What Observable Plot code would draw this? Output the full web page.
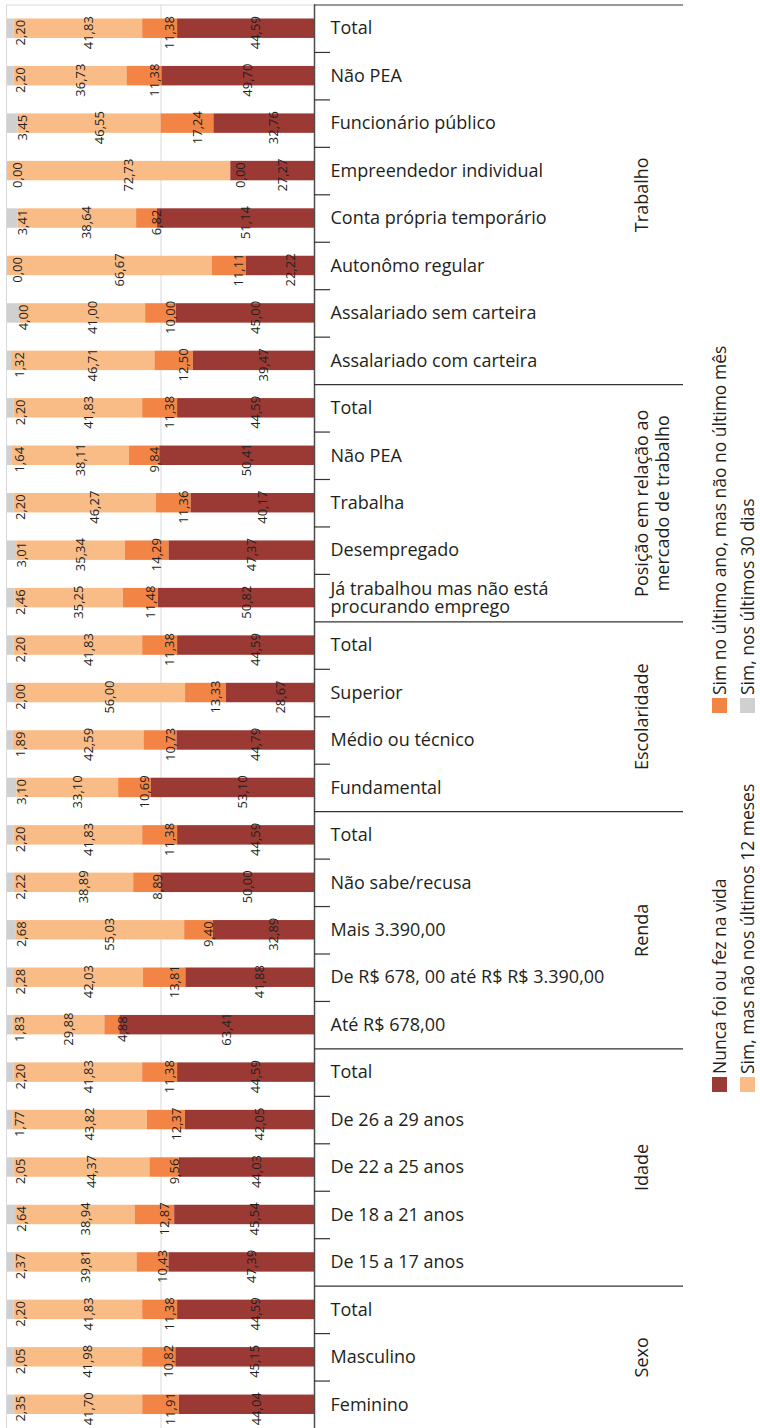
<!DOCTYPE html>
<html><head><meta charset="utf-8">
<script src="https://cdn.jsdelivr.net/npm/d3@7"></script>
<script src="https://cdn.jsdelivr.net/npm/@observablehq/plot@0.6"></script>
<style>
body{margin:0;background:#fff;font-family:"Open Sans",sans-serif}
#wrap{position:relative;width:760px;height:1428px;overflow:hidden}
#wrap svg{position:absolute;left:0;top:0}
</style></head><body><div id="wrap"></div>
<script>
const categories = [
  "Total","Não PEA","Funcionário público","Empreendedor individual","Conta própria temporário",
  "Autonômo regular","Assalariado sem carteira","Assalariado com carteira",
  "Total","Não PEA","Trabalha","Desempregado","Já trabalhou mas não está\nprocurando emprego",
  "Total","Superior","Médio ou técnico","Fundamental",
  "Total","Não sabe/recusa","Mais 3.390,00","De R$ 678, 00 até R$ R$ 3.390,00","Até R$ 678,00",
  "Total","De 26 a 29 anos","De 22 a 25 anos","De 18 a 21 anos","De 15 a 17 anos",
  "Total","Masculino","Feminino"
];
const groupNames = ["Trabalho","Posição em relação ao\nmercado de trabalho","Escolaridade","Renda","Idade","Sexo"];
const groupSizes = [8,5,4,5,5,3];
const series = ["Sim, nos últimos 30 dias","Sim, mas não nos últimos 12 meses","Sim no último ano, mas não no último mês","Nunca foi ou fez na vida"];
const colors = ["#d0d0d0","#f9bc87","#f28546","#9b3a34"];
const ultimos30 = [2.20,2.20,3.45,0.00,3.41,0.00,4.00,1.32, 2.20,1.64,2.20,3.01,2.46, 2.20,2.00,1.89,3.10, 2.20,2.22,2.68,2.28,1.83, 2.20,1.77,2.05,2.64,2.37, 2.20,2.05,2.35];
const ultimos12 = [41.83,36.73,46.55,72.73,38.64,66.67,41.00,46.71, 41.83,38.11,46.27,35.34,35.25, 41.83,56.00,42.59,33.10, 41.83,38.89,55.03,42.03,29.88, 41.83,43.82,44.37,38.94,39.81, 41.83,41.98,41.70];
const ultimoAno = [11.38,11.38,17.24,0.00,6.82,11.11,10.00,12.50, 11.38,9.84,11.36,14.29,11.48, 11.38,13.33,10.73,10.69, 11.38,8.89,9.40,13.81,4.88, 11.38,12.37,9.56,12.87,10.43, 11.38,10.82,11.91];
const nunca = [44.59,49.70,32.76,27.27,51.14,22.22,45.00,39.47, 44.59,50.41,40.17,47.37,50.82, 44.59,28.67,44.79,53.10, 44.59,50.00,32.89,41.88,63.41, 44.59,42.05,44.03,45.54,47.39, 44.59,45.15,44.04];

const W = 760, H = 1428, mt = 4.5, mb = 0, ml = 7, mr = 446;
const n = categories.length;
const step = (H - mt - mb) / n;
const toX = px => (px - ml) / (W - ml - mr) * 100;
const fmt = v => v.toFixed(2).replace(".", ",");
const ink = "#231f20";

const ids = categories.map((_, i) => String(i));
const vals = [ultimos30, ultimos12, ultimoAno, nunca];
const rows = [];
categories.forEach((c, i) => series.forEach((s, k) => rows.push({id: ids[i], series: s, value: vals[k][i]})));

let start = 0;
const groups = groupNames.map((g, j) => {
  const o = {name: g, first: ids[start], n: groupSizes[j]};
  start += groupSizes[j];
  return o;
});
const groupEnds = new Set();
{ let s = 0; groupSizes.forEach(k => { s += k; groupEnds.add(String(s - 1)); }); }
const shortTicks = ids.filter((id, i) => i < n - 1 && !groupEnds.has(id)).map(id => ({id}));
const longLines = ids.filter((id, i) => i < n - 1 && groupEnds.has(id)).map(id => ({id}));

const plot = Plot.plot({
  width: W, height: H, marginTop: mt, marginBottom: mb, marginLeft: ml, marginRight: mr,
  style: {fontFamily: '"Open Sans", sans-serif', color: ink, background: "transparent", overflow: "visible"},
  x: {domain: [0, 100], axis: null},
  y: {domain: ids, padding: 0, round: false, axis: null},
  color: {domain: series, range: colors},
  marks: [
    Plot.ruleX([0], {stroke: "#d9d9d9", dx: -1}),
    Plot.ruleY([{id: ids[0]}], {y: "id", dy: -step / 2, x1: 0, x2: 100, stroke: "#d9d9d9"}),
    Plot.ruleX([50], {stroke: "#d9d9d9"}),
    Plot.barX(rows, Plot.stackX({x: "value", y: "id", fill: "series", insetTop: 14, insetBottom: 14})),
    Plot.text(rows, Plot.stackX({x: "value", y: "id", text: d => fmt(d.value), rotate: -90, dx: 10, dy: 4, fontSize: 13, fill: ink})),
    Plot.ruleX([100], {stroke: "#4d4d4d", strokeWidth: 1.5}),
    Plot.ruleY(shortTicks, {y: "id", dy: step / 2, x1: 100, x2: toX(330), stroke: "#333", strokeWidth: 1.2}),
    Plot.ruleY(longLines, {y: "id", dy: step / 2, x1: 100, x2: toX(683), stroke: "#333", strokeWidth: 1.2}),
    Plot.ruleY([{id: ids[0]}], {y: "id", dy: -step / 2, x1: 100, x2: toX(683), stroke: "#333", strokeWidth: 1.2}),
    Plot.axisY({anchor: "right", tickSize: 0, tickPadding: 16, tickFormat: i => categories[+i], fontSize: 18, lineHeight: 1, fill: ink}),
    ...groups.map(g => Plot.text([g], {y: "first", x: toX(633), text: "name", rotate: -90, lineAnchor: "top", textAnchor: "middle", dy: (g.n - 1) * step / 2, fontSize: 18, lineHeight: 1.15, fill: ink}))
  ]
});
const wrap = document.getElementById("wrap");
wrap.appendChild(plot);

// legend
const legendItems = [
  {k: 3, bx: 727, sy: 1077},
  {k: 2, bx: 727, sy: 698},
  {k: 1, bx: 755, sy: 1077},
  {k: 0, bx: 755, sy: 698}
];
const lg = d3.select(wrap).append("svg").attr("width", W).attr("height", H)
  .style("font-family", '"Open Sans", sans-serif');
legendItems.forEach(it => {
  lg.append("rect").attr("x", it.bx - 15).attr("y", it.sy).attr("width", 15).attr("height", 15).attr("fill", colors[it.k]);
  lg.append("text").attr("transform", `translate(${it.bx - 1},${it.sy - 3}) rotate(-90)`)
    .attr("font-size", 17.5).attr("fill", ink).text(series[it.k]);
});
</script></body></html>
